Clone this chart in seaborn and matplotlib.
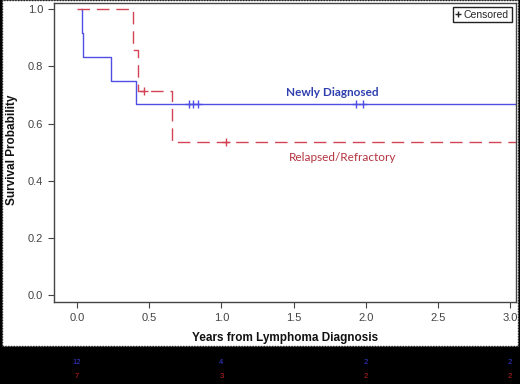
import matplotlib
matplotlib.use("Agg")
import matplotlib.pyplot as plt
import matplotlib.transforms as mtransforms
from matplotlib.lines import Line2D
from matplotlib.patches import Rectangle
import seaborn as sns
import pandas as pd

# ---- data ----
nd_time = [0.024, 0.036, 0.04, 0.233, 0.41, 3.04]
nd_surv = [1.0, 0.917, 0.833, 0.75, 0.667, 0.667]
nd_cens_time = [0.776, 0.804, 0.839, 1.93, 1.98]
nd_cens_surv = [0.667, 0.667, 0.667, 0.667, 0.667]

rr_time = [0.0, 0.387, 0.42, 0.66, 3.04]
rr_surv = [1.0, 0.857, 0.714, 0.536, 0.536]
rr_cens_time = [0.46, 1.03]
rr_cens_surv = [0.714, 0.536]

risk_times = [0.0, 1.0, 2.0, 3.0]
nd_at_risk = ["12", "4", "2", "2"]
rr_at_risk = ["7", "3", "2", "2"]

x_ticks = [0.0, 0.5, 1.0, 1.5, 2.0, 2.5, 3.0]
y_ticks = [0.0, 0.2, 0.4, 0.6, 0.8, 1.0]

BLUE = "#4f4fe6"
RED = "#d24454"
BLUE_TXT = "#2f3fae"
RED_TXT = "#b3343f"

sns.set_theme(style="white")
plt.rcParams['font.family'] = ['Liberation Sans', 'DejaVu Sans']

fig = plt.figure(figsize=(5.2, 3.84), dpi=100, facecolor="black")
# white panel with dotted border
bg = Rectangle((0.004, 0.099), 0.992, 0.9, transform=fig.transFigure,
               facecolor="white", edgecolor="#222222", linestyle=(0, (1, 1)),
               linewidth=1.0, zorder=-10)
fig.patches.append(bg)

ax = fig.add_axes([0.104, 0.2135, 0.888, 0.7785])
ax.set_zorder(5)
ax.set_facecolor("white")

nd = pd.DataFrame({"t": nd_time, "s": nd_surv})
rr = pd.DataFrame({"t": rr_time, "s": rr_surv})
sns.lineplot(data=nd, x="t", y="s", ax=ax, drawstyle="steps-post", color=BLUE,
             linewidth=1.0, estimator=None)
sns.lineplot(data=rr, x="t", y="s", ax=ax, drawstyle="steps-post", color=RED,
             linewidth=1.0, estimator=None, linestyle=(0, (9, 5)))
ax.plot(nd_cens_time, nd_cens_surv, linestyle="none", marker="+", color=BLUE,
        markersize=6, markeredgewidth=1.0)
ax.plot(rr_cens_time, rr_cens_surv, linestyle="none", marker="+", color=RED,
        markersize=6, markeredgewidth=1.0)

ax.set_xlim(-0.16, 3.04)
ax.set_ylim(-0.025, 1.022)
ax.set_xticks(x_ticks)
ax.set_xticklabels([f"{v:.1f}" for v in x_ticks])
ax.set_yticks(y_ticks)
ax.set_yticklabels([f"{v:.1f}" for v in y_ticks])
ax.tick_params(axis="both", which="both", direction="out", length=4, width=0.8,
               color="#444444", labelsize=8, labelcolor="#444444", pad=4,
               bottom=True, left=True)
for sp in ax.spines.values():
    sp.set_color("#444444")
    sp.set_linewidth(1.0)

ax.set_xlabel("Years from Lymphoma Diagnosis", fontsize=8.5, fontweight="bold",
              color="#111111")
ax.xaxis.set_label_coords(0.5, -0.10)
ax.set_ylabel("Survival Probability", fontsize=8.5, fontweight="bold",
              color="#111111")
ax.yaxis.set_label_coords(-0.078, 0.51)

ax.text(1.77, 0.71, "Newly Diagnosed", color=BLUE_TXT, fontsize=8.5,
        fontweight="bold", ha="center", va="center", family=["Lato", "DejaVu Sans"])
ax.text(1.84, 0.48, "Relapsed/Refractory", color=RED_TXT, fontsize=8.5,
        ha="center", va="center", family=["Lato", "DejaVu Sans"])

ax.legend(handles=[Line2D([], [], marker="+", linestyle="none", color="#222222",
                          markersize=5)],
          labels=["Censored"], loc="upper right", fancybox=False, framealpha=1,
          edgecolor="#222222", fontsize=7.5, handlelength=0.4, handletextpad=0.4,
          borderpad=0.25, borderaxespad=0.4)

# numbers at risk in black strip
tr = mtransforms.blended_transform_factory(ax.transData, fig.transFigure)
for t, n in zip(risk_times, nd_at_risk):
    ax.text(t, (384 - 362) / 384, n, transform=tr, color="#3a3ad8",
            fontsize=5.5, ha="center", va="center", clip_on=False)
for t, n in zip(risk_times, rr_at_risk):
    ax.text(t, (384 - 377) / 384, n, transform=tr, color="#c02020",
            fontsize=5.5, ha="center", va="center", clip_on=False)

fig.savefig("out.png", dpi=100, facecolor="black")
